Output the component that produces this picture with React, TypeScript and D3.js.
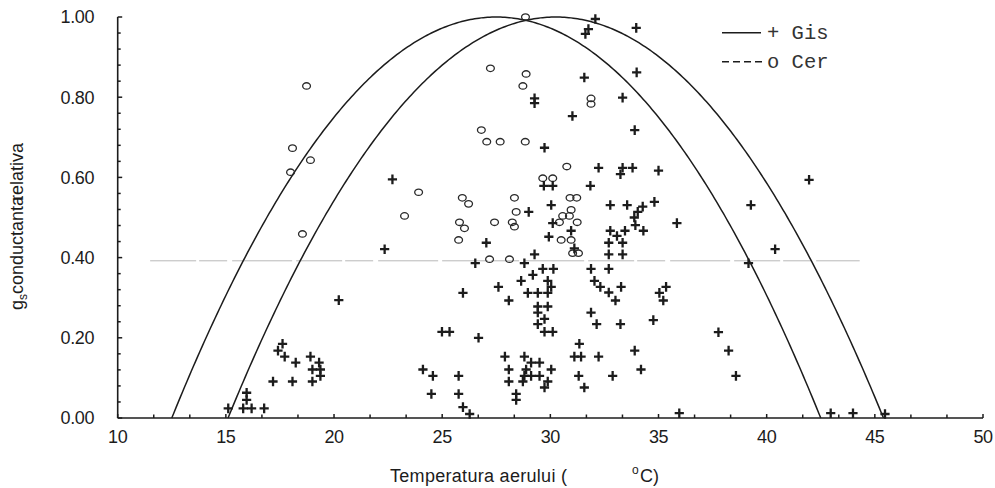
import React from "react";
import * as d3 from "d3";

// Chart frame
const W = 995;
const H = 488;

// Axis ticks: temperature ticks every 5/3 °C (labelled every 5), conductance every 0.04 (labelled every 0.2)
const xTickValues = d3.range(0, 25).map((k) => 10 + (k * 5) / 3);
const xLabelValues = [10, 15, 20, 25, 30, 35, 40, 45, 50];
const yTickValues = d3.range(0, 26).map((k) => k * 0.04);
const yLabelValues = [0, 0.2, 0.4, 0.6, 0.8, 1.0];

// Fitted parabolas g = peak * (1 - ((T - Topt) / halfWidth)^2)
const cerFit = { topt: 27.5, halfWidth: 15.0, peak: 1.0 };
const gisFit = { topt: 30.25, halfWidth: 15.15, peak: 1.0 };

// Reference level
const refLevel = 0.392;
const refSpan = [11.5, 44.3];

// Gis observations: [temperature °C, relative gs]
const gisPoints: [number, number][] = [
  [32.08, 0.995], [31.76, 0.97], [31.62, 0.958], [33.97, 0.973], [33.99, 0.862], [31.57, 0.849],
  [29.27, 0.797], [29.27, 0.785], [33.34, 0.799], [31.02, 0.753], [33.9, 0.718], [29.73, 0.674],
  [32.23, 0.624], [33.34, 0.624], [33.8, 0.624], [33.24, 0.608], [35.0, 0.617], [29.7, 0.579],
  [30.11, 0.579], [31.85, 0.579], [30.04, 0.531], [29.0, 0.514], [32.77, 0.531], [33.55, 0.531],
  [34.27, 0.527], [34.81, 0.539], [34.04, 0.514], [33.88, 0.5], [33.93, 0.481], [34.3, 0.467],
  [35.85, 0.486], [30.11, 0.486], [29.93, 0.452], [30.96, 0.467], [32.77, 0.467], [33.45, 0.467],
  [33.08, 0.454], [32.7, 0.437], [33.34, 0.437], [27.04, 0.437], [31.11, 0.423], [32.7, 0.408],
  [33.34, 0.408], [29.27, 0.408], [26.53, 0.386], [28.8, 0.386], [29.65, 0.372], [30.14, 0.372],
  [31.88, 0.372], [32.7, 0.372], [29.19, 0.357], [28.65, 0.342], [29.88, 0.342], [30.04, 0.327],
  [32.04, 0.342], [32.31, 0.327], [32.7, 0.313], [33.27, 0.327], [27.6, 0.327], [25.96, 0.312],
  [28.96, 0.312], [29.42, 0.312], [29.88, 0.312], [33.01, 0.293], [28.08, 0.293], [29.42, 0.278],
  [29.88, 0.278], [29.42, 0.263], [31.88, 0.263], [29.73, 0.247], [29.42, 0.234], [32.14, 0.234],
  [33.24, 0.234], [24.99, 0.215], [25.34, 0.215], [29.73, 0.215], [30.11, 0.215], [26.68, 0.2],
  [34.76, 0.244], [35.04, 0.312], [35.35, 0.327], [35.22, 0.293], [31.34, 0.185], [33.9, 0.168],
  [27.9, 0.153], [28.8, 0.153], [31.11, 0.153], [31.42, 0.153], [32.23, 0.153], [29.11, 0.138],
  [29.5, 0.138], [24.11, 0.121], [24.57, 0.105], [25.76, 0.105], [28.08, 0.121], [28.88, 0.121],
  [30.04, 0.121], [28.8, 0.105], [29.11, 0.105], [29.5, 0.105], [31.31, 0.105], [32.88, 0.105],
  [34.19, 0.121], [28.08, 0.091], [28.73, 0.091], [29.88, 0.091], [29.73, 0.076], [31.57, 0.076],
  [24.5, 0.06], [25.76, 0.06], [28.42, 0.06], [28.42, 0.045], [25.96, 0.027], [26.27, 0.01],
  [35.96, 0.012], [39.27, 0.531], [40.39, 0.421], [39.16, 0.386], [37.77, 0.214], [38.24, 0.168],
  [38.58, 0.105], [42.96, 0.012], [43.99, 0.012], [45.47, 0.01], [41.96, 0.594], [22.7, 0.595],
  [22.34, 0.421], [20.22, 0.294], [17.62, 0.185], [17.41, 0.168], [17.72, 0.153], [18.23, 0.138],
  [18.91, 0.153], [19.31, 0.138], [19.0, 0.121], [19.37, 0.121], [19.37, 0.105], [17.18, 0.091],
  [18.08, 0.091], [19.0, 0.091], [15.96, 0.063], [15.96, 0.045], [15.11, 0.024], [15.8, 0.024],
  [16.19, 0.024], [16.77, 0.024],
];

// Cer observations: [temperature °C, relative gs]
const cerPoints: [number, number][] = [
  [28.85, 1.0], [27.23, 0.872], [28.88, 0.858], [28.73, 0.828], [31.88, 0.797], [31.88, 0.783],
  [26.81, 0.718], [27.06, 0.689], [27.68, 0.689], [28.84, 0.689], [30.76, 0.627], [29.65, 0.598],
  [30.11, 0.598], [23.91, 0.563], [25.93, 0.549], [26.22, 0.534], [28.34, 0.549], [30.91, 0.549],
  [31.22, 0.549], [23.26, 0.504], [28.42, 0.514], [30.96, 0.519], [30.57, 0.504], [30.88, 0.504],
  [25.8, 0.488], [26.03, 0.473], [27.42, 0.488], [28.24, 0.488], [28.34, 0.477], [30.42, 0.488],
  [31.24, 0.488], [25.76, 0.444], [30.5, 0.444], [30.96, 0.444], [31.03, 0.411], [31.3, 0.411],
  [27.19, 0.396], [28.11, 0.396], [18.73, 0.828], [18.08, 0.673], [18.91, 0.643], [17.99, 0.613],
  [18.54, 0.459],
];

const x = d3.scaleLinear().domain([10, 50]).range([117.7, 983]);
const y = d3.scaleLinear().domain([0, 1]).range([418, 17]);

const ink = "#1c1c1c";
const sans = "'Liberation Sans', Arial, sans-serif";
const mono = "'Liberation Mono', 'Courier New', monospace";

function fitPath(fit: { topt: number; halfWidth: number; peak: number }) {
  const ts = d3.range(fit.topt - fit.halfWidth, fit.topt + fit.halfWidth + 1e-9, fit.halfWidth / 150);
  const line = d3
    .line<number>()
    .x((t) => x(t))
    .y((t) => y(fit.peak * (1 - ((t - fit.topt) / fit.halfWidth) ** 2)));
  return line(ts) || "";
}

export default function App() {
  const close = (a: number, b: number) => Math.abs(a - b) < 1e-6;
  return (
    <svg
      width={W}
      height={H}
      viewBox={`0 0 ${W} ${H}`}
      style={{ position: "absolute", left: 0, top: 0, background: "#fff" }}
    >
      <rect width={W} height={H} fill="#fff" />

      {/* reference level */}
      <line
        x1={x(refSpan[0])}
        x2={x(refSpan[1])}
        y1={y(refLevel)}
        y2={y(refLevel)}
        stroke="#b8b8b8"
        strokeWidth={1}
        strokeDasharray="46,3,28,5,60,4"
      />

      {/* fitted curves */}
      <path d={fitPath(cerFit)} fill="none" stroke={ink} strokeWidth={1.5} />
      <path d={fitPath(gisFit)} fill="none" stroke={ink} strokeWidth={1.5} />

      {/* Cer points */}
      {cerPoints.map(([t, g], i) => (
        <ellipse
          key={`c${i}`}
          cx={x(t)}
          cy={y(g)}
          rx={3.9}
          ry={3.2}
          fill="none"
          stroke="#2a2a2a"
          strokeWidth={1.3}
        />
      ))}

      {/* Gis points */}
      {gisPoints.map(([t, g], i) => {
        const cx = x(t);
        const cy = y(g);
        return (
          <path
            key={`g${i}`}
            d={`M${cx - 4.6},${cy}H${cx + 4.6}M${cx},${cy - 4.8}V${cy + 4.8}`}
            stroke={ink}
            strokeWidth={2.3}
            fill="none"
          />
        );
      })}

      {/* axes */}
      <line x1={x(10)} x2={x(10)} y1={y(1)} y2={y(0)} stroke={ink} strokeWidth={1.6} />
      <line x1={x(10)} x2={x(50)} y1={y(0)} y2={y(0)} stroke={ink} strokeWidth={1.6} />
      {yTickValues.map((v, i) => {
        const major = i % 5 === 0;
        return (
          <line
            key={`yt${i}`}
            x1={x(10)}
            x2={x(10) + (major ? 4.5 : 3)}
            y1={y(v)}
            y2={y(v)}
            stroke={ink}
            strokeWidth={1.5}
          />
        );
      })}
      {xTickValues.map((v, i) => (
        <line
          key={`xt${i}`}
          x1={x(v)}
          x2={x(v)}
          y1={y(0)}
          y2={y(0) - (i % 3 === 0 ? 4 : 3.5)}
          stroke={ink}
          strokeWidth={1.5}
        />
      ))}
      {yLabelValues.map((v) => (
        <text
          key={`yl${v}`}
          x={94}
          y={y(v)}
          dy="0.36em"
          textAnchor="end"
          fontFamily={sans}
          fontSize={18}
          letterSpacing={-0.4}
          fill={ink}
        >
          {v.toFixed(2)}
        </text>
      ))}
      {xLabelValues.map((v) => (
        <text
          key={`xl${v}`}
          x={x(v)}
          y={443}
          textAnchor="middle"
          fontFamily={sans}
          fontSize={18}
          letterSpacing={-0.4}
          fill={ink}
        >
          {xTickValues.some((t) => close(t, v)) ? v : v}
        </text>
      ))}

      {/* axis titles */}
      <text x={390} y={482} fontFamily={sans} fontSize={18} fill={ink} textLength={177} lengthAdjust="spacing">
        Temperatura aerului (
      </text>
      <text x={632} y={474} fontFamily={sans} fontSize={12} fill={ink}>
        o
      </text>
      <text x={640} y={482} fontFamily={sans} fontSize={18} fill={ink}>
        C)
      </text>

      <text transform="translate(23,310) rotate(-90)" fontFamily={sans} fontSize={18} fill={ink}>
        <tspan>g</tspan>
        <tspan fontSize={12} dy={4}>s</tspan>
        <tspan dy={-4}>conductanta</tspan>
        <tspan dx={-5}>relativa</tspan>
      </text>

      {/* legend */}
      <line x1={722} x2={761} y1={32.7} y2={32.7} stroke={ink} strokeWidth={1.4} />
      <text x={767} y={39} fontFamily={mono} fontSize={20.5} fill="#333">
        + Gis
      </text>
      <line x1={722} x2={764} y1={61.7} y2={61.7} stroke={ink} strokeWidth={1.4} strokeDasharray="7,4" />
      <text x={767} y={68} fontFamily={mono} fontSize={20.5} fill="#333">
        o Cer
      </text>
    </svg>
  );
}
